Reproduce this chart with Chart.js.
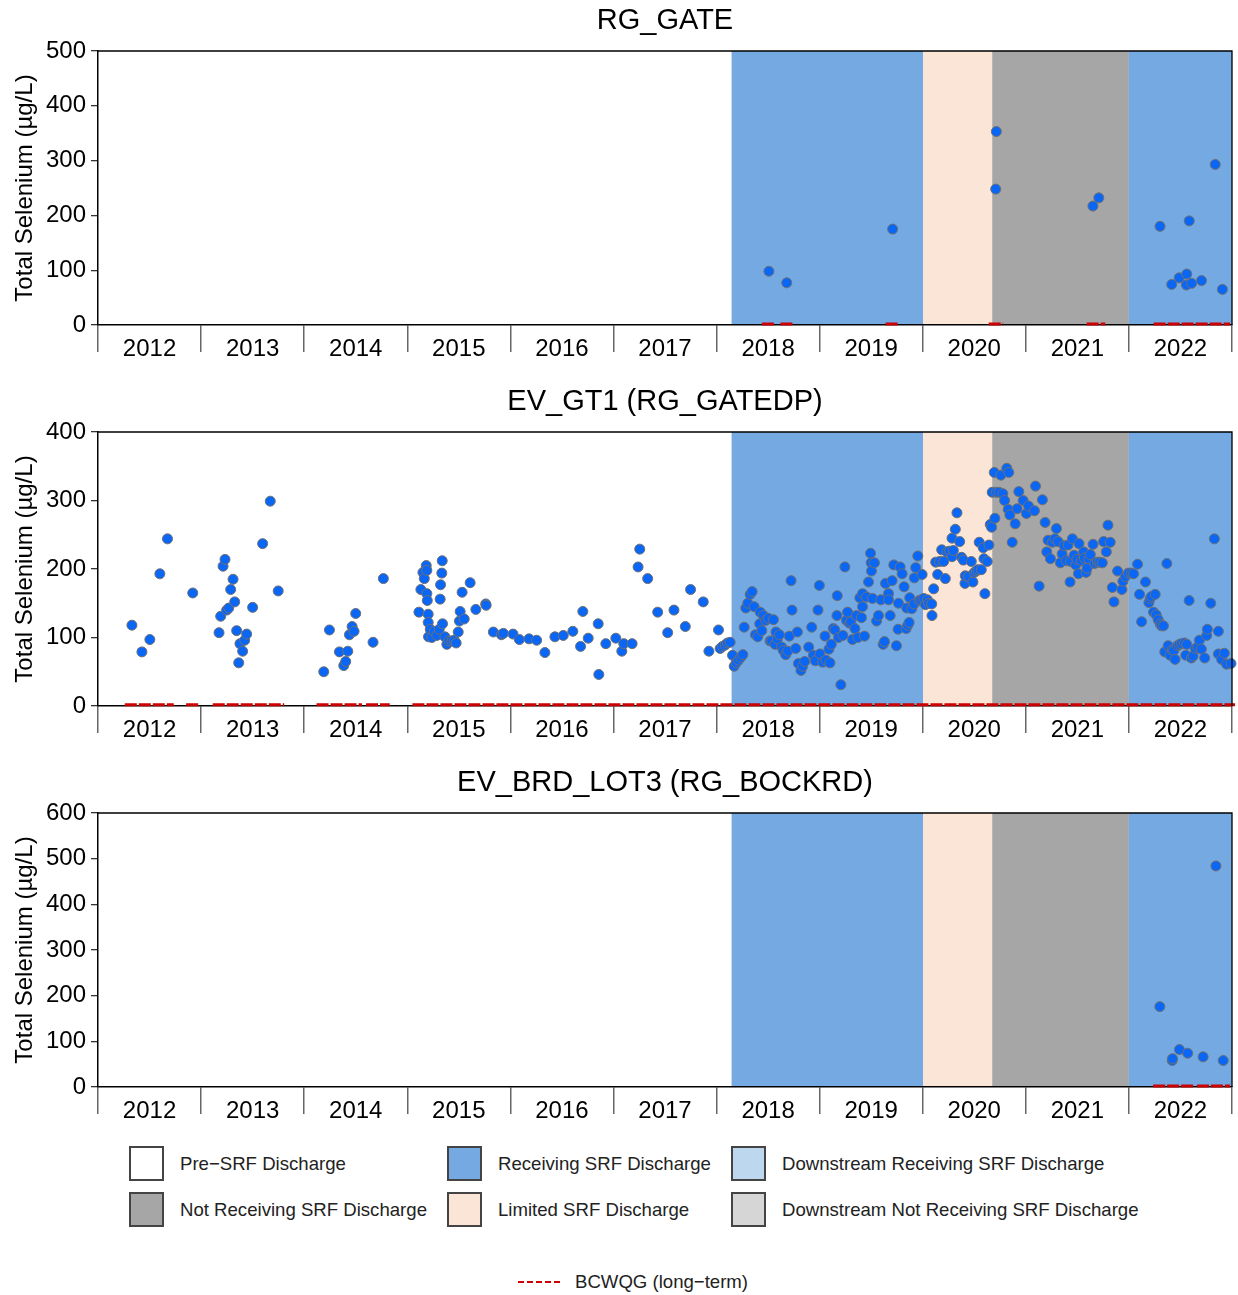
<!DOCTYPE html>
<html>
<head>
<meta charset="utf-8">
<script src="https://cdn.jsdelivr.net/npm/chart.js@4"></script>
<style>
  body { margin: 0; background: #fff; font-family: "Liberation Sans", Arial, sans-serif; }
  .page { position: relative; width: 1238px; height: 1295px; }
  .panel { position: absolute; left: 0; width: 1238px; height: 381px; }
  .legend-item { position: absolute; display: flex; align-items: center; font-size: 18.6px; color: #222; }
  .swatch { width: 31px; height: 31px; border: 2px solid #444; margin-right: 16px; box-sizing: content-box; }
  .guide-key { position: absolute; left: 518px; top: 1271px; display: flex; align-items: center; font-size: 18.6px; color: #222; }
  .dash { width: 42px; height: 0; border-top: 2px dashed #d00000; margin-right: 15px; }
</style>
</head>
<body>
<div class="page">
  <div class="panel" style="top:0"><canvas id="chart-gate"></canvas></div>
  <div class="panel" style="top:381px"><canvas id="chart-gatedp"></canvas></div>
  <div class="panel" style="top:762px"><canvas id="chart-bockrd"></canvas></div>
  <div id="legend"></div>
  <div class="guide-key"><span class="dash"></span>BCWQG (long−term)</div>
</div>
<script>
// x values are decimal years, y values are total selenium in ug/L
const YEARS = [2012, 2013, 2014, 2015, 2016, 2017, 2018, 2019, 2020, 2021, 2022];

const PERIOD_STARTS = [2018.146, 2020.003, 2020.674, 2022.0];
const PERIOD_ENDS = [2020.003, 2020.674, 2022.0, 2023.0];
const PERIOD_TYPES = ["receiving", "limited", "notReceiving", "receiving"];

const PERIOD_COLORS = {
  pre: "#ffffff",
  receiving: "#74a9e2",
  downstreamReceiving: "#bdd7ee",
  notReceiving: "#a6a6a6",
  limited: "#fae5d7",
  downstreamNot: "#d6d6d6"
};

const LEGEND_LABELS = [
  ["pre", "Pre−SRF Discharge"],
  ["receiving", "Receiving SRF Discharge"],
  ["downstreamReceiving", "Downstream Receiving SRF Discharge"],
  ["notReceiving", "Not Receiving SRF Discharge"],
  ["limited", "Limited SRF Discharge"],
  ["downstreamNot", "Downstream Not Receiving SRF Discharge"]
];

const BCWQG_VALUE = 2;

const GATE_DATES = [2018.508, 2018.681, 2019.708, 2020.708, 2020.714, 2021.651, 2021.708, 2022.302, 2022.415, 2022.488,
  2022.558, 2022.561, 2022.585, 2022.608, 2022.704, 2022.837, 2022.907];
const GATE_VALUES = [98, 77, 175, 248, 353, 217, 232, 180, 74, 86,
  73, 93, 190, 76, 81, 293, 65];
const GATE_GUIDE = [[2018.44, 2018.57], [2018.62, 2018.75], [2019.64, 2019.77], [2020.64, 2020.78], [2021.59, 2021.77], [2022.24, 2022.98]];

const GATEDP_DATES = [
  2012.329, 2012.426, 2012.503, 2012.600, 2012.674, 2012.919, 2013.174, 2013.190, 2013.213, 2013.232,
  2013.248, 2013.268, 2013.287, 2013.310, 2013.326, 2013.345, 2013.365, 2013.377, 2013.403, 2013.423,
  2013.442, 2013.500, 2013.597, 2013.671, 2013.748, 2014.190, 2014.245, 2014.342, 2014.384, 2014.403,
  2014.423, 2014.439, 2014.465, 2014.484, 2014.500, 2014.668, 2014.768, 2015.113, 2015.132, 2015.152,
  2015.165, 2015.184, 2015.190, 2015.190, 2015.194, 2015.203, 2015.203, 2015.206, 2015.223, 2015.239,
  2015.261, 2015.287, 2015.310, 2015.319, 2015.323, 2015.335, 2015.339, 2015.342, 2015.365, 2015.384,
  2015.403, 2015.432, 2015.455, 2015.474, 2015.494, 2015.506, 2015.513, 2015.532, 2015.552, 2015.610,
  2015.665, 2015.761, 2015.765, 2015.835, 2015.913, 2015.932, 2016.026, 2016.087, 2016.181, 2016.255,
  2016.335, 2016.432, 2016.513, 2016.606, 2016.681, 2016.703, 2016.755, 2016.852, 2016.858, 2016.926,
  2017.023, 2017.081, 2017.100, 2017.181, 2017.239, 2017.255, 2017.332, 2017.429, 2017.526, 2017.587,
  2017.697, 2017.748, 2017.871, 2017.926, 2018.019, 2018.035, 2018.058, 2018.084, 2018.106, 2018.132,
  2018.155, 2018.171, 2018.190, 2018.213, 2018.235, 2018.255, 2018.268, 2018.284, 2018.303, 2018.326,
  2018.345, 2018.365, 2018.377, 2018.400, 2018.419, 2018.423, 2018.439, 2018.455, 2018.477, 2018.503,
  2018.519, 2018.535, 2018.552, 2018.568, 2018.577, 2018.590, 2018.610, 2018.632, 2018.648, 2018.671,
  2018.690, 2018.706, 2018.723, 2018.732, 2018.768, 2018.784, 2018.794, 2018.819, 2018.835, 2018.855,
  2018.894, 2018.923, 2018.939, 2018.958, 2018.984, 2018.997, 2019.003, 2019.029, 2019.052, 2019.061,
  2019.090, 2019.100, 2019.113, 2019.132, 2019.148, 2019.168, 2019.171, 2019.184, 2019.206, 2019.226,
  2019.245, 2019.261, 2019.271, 2019.290, 2019.303, 2019.319, 2019.342, 2019.358, 2019.371, 2019.390,
  2019.406, 2019.416, 2019.416, 2019.435, 2019.455, 2019.474, 2019.494, 2019.500, 2019.503, 2019.513,
  2019.532, 2019.552, 2019.571, 2019.594, 2019.616, 2019.629, 2019.639, 2019.668, 2019.668, 2019.684,
  2019.703, 2019.719, 2019.745, 2019.761, 2019.765, 2019.781, 2019.800, 2019.819, 2019.839, 2019.845,
  2019.855, 2019.868, 2019.874, 2019.894, 2019.916, 2019.919, 2019.932, 2019.952, 2019.965, 2019.984,
  2019.994, 2020.010, 2020.026, 2020.045, 2020.058, 2020.087, 2020.090, 2020.106, 2020.126, 2020.145,
  2020.165, 2020.184, 2020.203, 2020.219, 2020.235, 2020.261, 2020.284, 2020.284, 2020.297, 2020.316,
  2020.332, 2020.358, 2020.377, 2020.394, 2020.410, 2020.413, 2020.445, 2020.471, 2020.487, 2020.500,
  2020.519, 2020.535, 2020.548, 2020.568, 2020.587, 2020.594, 2020.603, 2020.626, 2020.642, 2020.655,
  2020.668, 2020.674, 2020.694, 2020.700, 2020.713, 2020.739, 2020.758, 2020.777, 2020.794, 2020.816,
  2020.829, 2020.835, 2020.845, 2020.868, 2020.897, 2020.916, 2020.932, 2020.974, 2021.006, 2021.026,
  2021.084, 2021.094, 2021.129, 2021.161, 2021.187, 2021.203, 2021.216, 2021.239, 2021.258, 2021.281,
  2021.297, 2021.313, 2021.335, 2021.352, 2021.371, 2021.394, 2021.410, 2021.429, 2021.435, 2021.452,
  2021.468, 2021.484, 2021.497, 2021.510, 2021.516, 2021.539, 2021.561, 2021.568, 2021.584, 2021.594,
  2021.610, 2021.626, 2021.652, 2021.668, 2021.694, 2021.716, 2021.742, 2021.755, 2021.781, 2021.797,
  2021.819, 2021.839, 2021.855, 2021.890, 2021.932, 2021.942, 2021.965, 2021.994, 2022.023, 2022.045,
  2022.084, 2022.103, 2022.123, 2022.161, 2022.194, 2022.206, 2022.219, 2022.239, 2022.255, 2022.265,
  2022.284, 2022.303, 2022.316, 2022.335, 2022.348, 2022.368, 2022.381, 2022.400, 2022.419, 2022.435,
  2022.448, 2022.471, 2022.490, 2022.510, 2022.539, 2022.552, 2022.561, 2022.584, 2022.606, 2022.623,
  2022.645, 2022.668, 2022.684, 2022.703, 2022.735, 2022.755, 2022.761, 2022.794, 2022.829, 2022.868,
  2022.868, 2022.900, 2022.926, 2022.948, 2022.990
];
const GATEDP_VALUES = [
  118, 79, 97, 193, 244, 165, 107, 131, 204, 214,
  140, 143, 170, 185, 152, 110, 63, 91, 80, 96,
  105, 144, 237, 299, 168, 50, 111, 79, 59, 65,
  80, 104, 116, 109, 135, 93, 186, 137, 170, 195,
  186, 205, 198, 164, 154, 134, 122, 101, 112, 100,
  109, 103, 112, 156, 177, 194, 212, 120, 101, 90,
  95, 95, 96, 92, 108, 124, 138, 166, 127, 180,
  141, 149, 147, 108, 104, 106, 105, 97, 98, 96,
  78, 101, 103, 109, 87, 138, 99, 120, 46, 91,
  99, 80, 91, 91, 203, 229, 186, 137, 107, 140,
  116, 170, 152, 80, 111, 84, 87, 89, 92, 93,
  74, 58, 63, 67, 71, 75, 115, 143, 150, 163,
  167, 145, 104, 101, 120, 137, 110, 132, 125, 128,
  95, 95, 126, 90, 108, 98, 104, 86, 81, 75,
  80, 102, 183, 140, 84, 108, 62, 52, 58, 65,
  86, 115, 74, 66, 140, 176, 76, 64, 102, 67,
  83, 63, 90, 113, 111, 132, 161, 100, 31, 103,
  203, 125, 137, 121, 123, 97, 113, 132, 100, 158,
  129, 164, 145, 102, 159, 181, 223, 209, 197, 157,
  209, 124, 132, 155, 90, 94, 179, 164, 155, 132,
  183, 206, 88, 112, 150, 203, 193, 174, 113, 143,
  118, 122, 158, 142, 149, 187, 202, 219, 154, 155,
  192, 157, 148, 155, 150, 149, 132, 171, 210, 192,
  211, 228, 211, 186, 225, 226, 218, 245, 227, 258,
  282, 240, 217, 213, 179, 190, 189, 211, 181, 195,
  197, 199, 239, 199, 231, 215, 164, 211, 235, 265,
  261, 312, 341, 274, 312, 312, 337, 310, 300, 347,
  287, 341, 279, 239, 266, 288, 313, 300, 281, 292,
  285, 321, 175, 301, 268, 225, 242, 215, 239, 244,
  259, 240, 209, 222, 234, 212, 235, 181, 211, 244,
  220, 206, 214, 193, 237, 212, 225, 216, 195, 201,
  215, 221, 236, 208, 210, 210, 209, 240, 225, 264,
  239, 173, 152, 197, 170, 182, 189, 194, 194, 193,
  207, 163, 123, 181, 151, 157, 160, 137, 163, 133,
  126, 120, 117, 117, 79, 208, 88, 74, 82, 81,
  68, 88, 90, 91, 92, 74, 90, 154, 70, 73,
  84, 86, 96, 83, 70, 103, 112, 150, 244, 109,
  76, 68, 77, 61, 62
];
const GATEDP_GUIDE = [[2012.26, 2012.735], [2012.855, 2012.987], [2013.113, 2013.806], [2014.12, 2014.56], [2014.6, 2014.83], [2015.05, 2023.03]];

const BOCKRD_DATES = [2022.300, 2022.420, 2022.423, 2022.490, 2022.570, 2022.720, 2022.844, 2022.915];
const BOCKRD_VALUES = [176, 58, 62, 82, 74, 66, 484, 58];
const BOCKRD_GUIDE = [[2022.235, 2022.64], [2022.66, 2022.98]];

const FONT = "'Liberation Sans', Arial, sans-serif";

function buildPoints(dates, values) {
  return dates.map((d, i) => ({ x: d, y: values[i] }));
}

function buildGuide(segments) {
  const pts = [];
  segments.forEach(([s, e], i) => {
    if (i > 0) {
      pts.push({ x: (segments[i - 1][1] + s) / 2, y: null });
    }
    pts.push({ x: s, y: BCWQG_VALUE }, { x: e, y: BCWQG_VALUE });
  });
  return pts;
}

function buildYearTicks() {
  const ticks = [];
  YEARS.forEach((y) => {
    ticks.push({ value: y }, { value: y + 0.5 });
  });
  ticks.push({ value: YEARS[YEARS.length - 1] + 1 });
  return ticks;
}

const periodShading = {
  id: "periodShading",
  beforeDraw(chart) {
    const { ctx, chartArea, scales } = chart;
    ctx.save();
    PERIOD_STARTS.forEach((start, i) => {
      const x0 = scales.x.getPixelForValue(start);
      const x1 = scales.x.getPixelForValue(PERIOD_ENDS[i]);
      ctx.fillStyle = PERIOD_COLORS[PERIOD_TYPES[i]];
      ctx.fillRect(x0, chartArea.top, x1 - x0, chartArea.bottom - chartArea.top);
    });
    ctx.restore();
  }
};

const panelFrame = {
  id: "panelFrame",
  afterDraw(chart, args, opts) {
    const { ctx, chartArea } = chart;
    ctx.save();
    ctx.strokeStyle = "#000";
    ctx.lineWidth = 1.3;
    ctx.beginPath();
    ctx.moveTo(chartArea.left, chartArea.top);
    ctx.lineTo(chartArea.right, chartArea.top);
    ctx.lineTo(chartArea.right, chartArea.bottom);
    ctx.stroke();
    ctx.fillStyle = "#000";
    ctx.font = `29px ${FONT}`;
    ctx.textAlign = "center";
    ctx.textBaseline = "middle";
    ctx.fillText(opts.text, (chartArea.left + chartArea.right) / 2, 21);
    ctx.restore();
  }
};

function makePanel(canvasId, title, yMax, dates, values, guide) {
  return new Chart(document.getElementById(canvasId), {
    type: "scatter",
    data: {
      datasets: [
        {
          label: "Total Selenium",
          data: buildPoints(dates, values),
          backgroundColor: "#0a66f5",
          borderColor: "#707070",
          borderWidth: 1,
          pointRadius: 5,
          clip: false
        },
        {
          label: "BCWQG (long-term)",
          data: buildGuide(guide),
          showLine: true,
          spanGaps: false,
          pointRadius: 0,
          borderColor: "#cc0000",
          borderWidth: 3,
          borderDash: [12, 2],
          clip: false
        }
      ]
    },
    options: {
      responsive: true,
      maintainAspectRatio: false,
      animation: false,
      events: [],
      layout: { padding: { top: 51, right: -2, left: 0, bottom: 0 } },
      plugins: {
        legend: { display: false },
        tooltip: { enabled: false },
        panelFrame: { text: title }
      },
      scales: {
        x: {
          type: "linear",
          min: 2012,
          max: 2023,
          afterBuildTicks: (scale) => { scale.ticks = buildYearTicks(); },
          afterFit: (scale) => { scale.height = 56; },
          border: { display: true, color: "#000", width: 1.5 },
          grid: {
            drawOnChartArea: false,
            drawTicks: true,
            tickLength: 27,
            lineWidth: 1.5,
            color: (ctx) => (ctx.tick && Number.isInteger(ctx.tick.value) ? "#666" : "rgba(0,0,0,0)")
          },
          ticks: {
            autoSkip: false,
            maxRotation: 0,
            padding: -17,
            color: "#000",
            font: { family: FONT, size: 24 },
            callback: (v) => (Number.isInteger(v) ? "" : String(Math.floor(v)))
          }
        },
        y: {
          min: 0,
          max: yMax,
          afterFit: (scale) => { scale.width = 98; },
          border: { display: true, color: "#000", width: 1.5 },
          grid: { drawOnChartArea: false, drawTicks: true, tickLength: 7, color: "#333", lineWidth: 1.3 },
          ticks: {
            stepSize: 100,
            padding: 5,
            color: "#000",
            font: { family: FONT, size: 24 }
          },
          title: {
            display: true,
            text: "Total Selenium (µg/L)",
            color: "#000",
            font: { family: FONT, size: 24 },
            padding: { top: 11, bottom: 0 }
          }
        }
      }
    },
    plugins: [periodShading, panelFrame]
  });
}

function renderLegend() {
  const lefts = [129, 447, 731];
  const tops = [1146, 1192];
  document.getElementById("legend").innerHTML = LEGEND_LABELS.map(([key, label], i) => {
    const col = i % 3;
    const row = Math.floor(i / 3);
    return `<div class="legend-item" style="left:${lefts[col]}px;top:${tops[row]}px">
      <span class="swatch" style="background:${PERIOD_COLORS[key]}"></span>${label}</div>`;
  }).join("");
}

makePanel("chart-gate", "RG_GATE", 500, GATE_DATES, GATE_VALUES, GATE_GUIDE);
makePanel("chart-gatedp", "EV_GT1 (RG_GATEDP)", 400, GATEDP_DATES, GATEDP_VALUES, GATEDP_GUIDE);
makePanel("chart-bockrd", "EV_BRD_LOT3 (RG_BOCKRD)", 600, BOCKRD_DATES, BOCKRD_VALUES, BOCKRD_GUIDE);
renderLegend();
</script>
</body>
</html>
